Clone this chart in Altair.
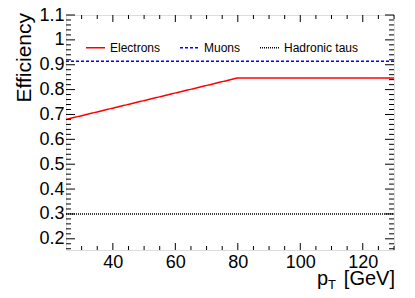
import altair as alt
import pandas as pd

# ---- data ----
series_names = ["Electrons", "Muons", "Hadronic taus"]
series_colors = ["#ff0000", "#0000ff", "#000000"]
series_dash = [[1, 0], [3, 2], [1, 1]]

electron_pt = [25, 80, 130]
electron_eff = [0.68, 0.847, 0.847]
muon_pt = [25, 130]
muon_eff = [0.914, 0.914]
tau_pt = [25, 130]
tau_eff = [0.30, 0.30]

x_major = [40, 60, 80, 100, 120]
x_minor = [30, 35, 45, 50, 55, 65, 70, 75, 85, 90, 95, 105, 110, 115, 125, 130]
y_major = [0.2, 0.3, 0.4, 0.5, 0.6, 0.7, 0.8, 0.9, 1.0, 1.1]
y_minor = [0.16, 0.18, 0.22, 0.24, 0.26, 0.28, 0.32, 0.34, 0.36, 0.38,
           0.42, 0.44, 0.46, 0.48, 0.52, 0.54, 0.56, 0.58, 0.62, 0.64, 0.66, 0.68,
           0.72, 0.74, 0.76, 0.78, 0.82, 0.84, 0.86, 0.88, 0.92, 0.94, 0.96, 0.98,
           1.02, 1.04, 1.06, 1.08]

X_DOMAIN = [25, 130]
Y_DOMAIN = [0.155, 1.1]
W, H = 328, 235
FONT = "Liberation Sans"

rows = []
for name, xs, ys in [("Electrons", electron_pt, electron_eff),
                     ("Muons", muon_pt, muon_eff),
                     ("Hadronic taus", tau_pt, tau_eff)]:
    for i, (a, b) in enumerate(zip(xs, ys)):
        rows.append({"series": name, "x": a, "y": b, "o": i})
lines_df = pd.DataFrame(rows)

label_expr = "datum.value >= 0.995 && datum.value <= 1.005 ? '1' : format(datum.value, '.1f')"

def xenc():
    return alt.X("x:Q", scale=alt.Scale(domain=X_DOMAIN, nice=False, zero=False),
                 axis=alt.Axis(title=None, values=x_major, ticks=False, domain=False, grid=False,
                               labelFontSize=18, labelFont=FONT, labelColor="black",
                               labelPadding=3, format="d"))

def yenc():
    return alt.Y("y:Q", scale=alt.Scale(domain=Y_DOMAIN, nice=False, zero=False),
                 axis=alt.Axis(title=None, values=y_major, ticks=False, domain=False, grid=False,
                               labelFontSize=18, labelFont=FONT, labelColor="black",
                               labelPadding=2, labelExpr=label_expr))

def legend():
    return alt.Legend(title=None, orient="none", legendX=19, legendY=22,
                      direction="horizontal", symbolType="stroke",
                      symbolSize=361, symbolStrokeWidth=1.5,
                      labelFont=FONT, labelFontSize=12, labelColor="black",
                      labelOffset=4, columnPadding=16, padding=0)

lines = alt.Chart(lines_df).mark_line(strokeWidth=1.5).encode(
    x=xenc(), y=yenc(),
    order="o:Q",
    color=alt.Color("series:N", sort=series_names,
                    scale=alt.Scale(domain=series_names, range=series_colors),
                    legend=legend()),
    strokeDash=alt.StrokeDash("series:N", sort=series_names,
                              scale=alt.Scale(domain=series_names, range=series_dash),
                              legend=legend()),
)

def yticks(vals, length, side):
    d = pd.DataFrame({"y": vals})
    if side == "left":
        xa, xb = 0, length
    else:
        xa, xb = W, W - length
    return alt.Chart(d).mark_rule(color="black", strokeWidth=1).encode(
        y=yenc(), x=alt.value(xa), x2=alt.value(xb))

def xticks(vals, length, side):
    d = pd.DataFrame({"x": vals})
    if side == "bottom":
        ya, yb = H, H - length
    else:
        ya, yb = 0, length
    return alt.Chart(d).mark_rule(color="black", strokeWidth=1).encode(
        x=xenc(), y=alt.value(ya), y2=alt.value(yb))

tick_layers = [
    yticks(y_major, 9, "left"), yticks(y_minor, 5, "left"),
    yticks(y_major, 9, "right"), yticks(y_minor, 5, "right"),
    xticks(x_major, 7, "bottom"), xticks(x_minor, 4, "bottom"),
    xticks(x_major, 7, "top"), xticks(x_minor, 4, "top"),
]

title_df = pd.DataFrame({"t": ["Efficiency"]})
ytitle = alt.Chart(title_df).mark_text(font=FONT, fontSize=21, angle=270, align="right",
                                       baseline="middle", color="black").encode(
    x=alt.value(-41), y=alt.value(-2), text="t:N")

xt_df = pd.DataFrame({"t": ["[GeV]"]})
xtitle_main = alt.Chart(xt_df).mark_text(font=FONT, fontSize=20, align="right",
                                         baseline="alphabetic", color="black").encode(
    x=alt.value(W + 1), y=alt.value(270), text="t:N")
p_df = pd.DataFrame({"t": ["p"]})
xtitle_p = alt.Chart(p_df).mark_text(font=FONT, fontSize=20, align="left",
                                     baseline="alphabetic", color="black").encode(
    x=alt.value(251), y=alt.value(270), text="t:N")
t_df = pd.DataFrame({"t": ["T"]})
xtitle_t = alt.Chart(t_df).mark_text(font=FONT, fontSize=13, align="left",
                                     baseline="alphabetic", color="black").encode(
    x=alt.value(262), y=alt.value(274), text="t:N")

chart = alt.layer(lines, *tick_layers, ytitle, xtitle_main, xtitle_p, xtitle_t).properties(
    width=W, height=H,
    autosize=alt.AutoSizeParams(type="none"),
    padding={"left": 58, "top": 7, "right": 13, "bottom": 40},
).configure_view(stroke="black", strokeWidth=1).configure(background="white")

chart.save("out.html", embed_options={"renderer": "svg", "actions": False})
